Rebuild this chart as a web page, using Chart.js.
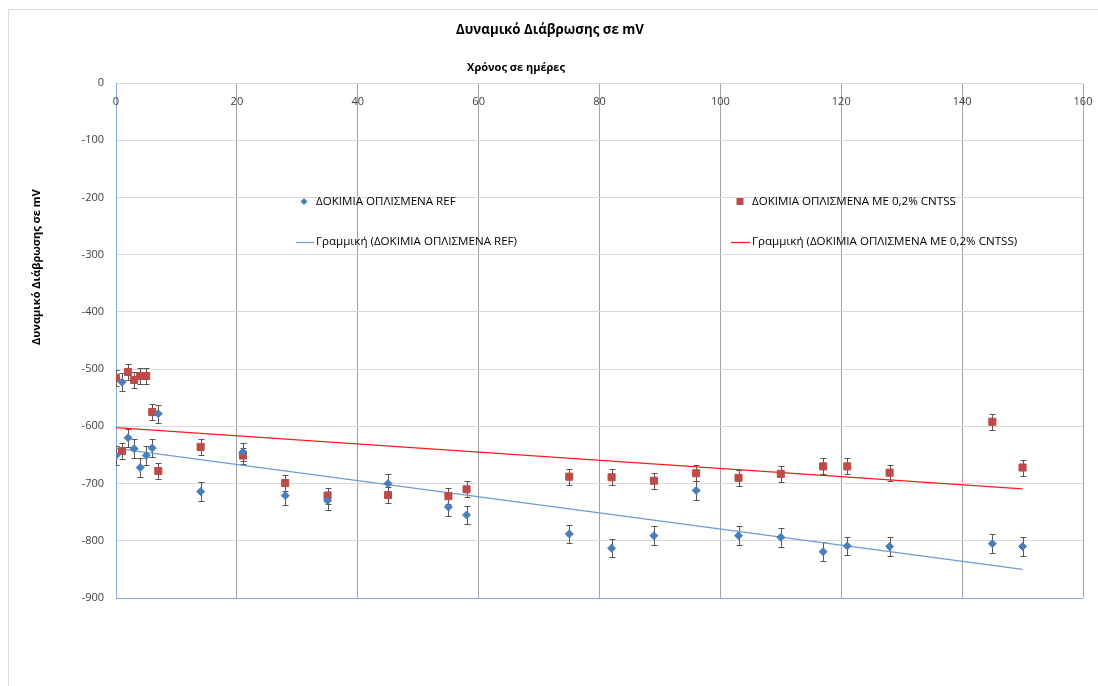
<!DOCTYPE html>
<html><head><meta charset="utf-8">
<script src="https://cdn.jsdelivr.net/npm/chart.js@4.4.1/dist/chart.umd.min.js"></script>
<style>html,body{margin:0;padding:0;background:#fff;overflow:hidden}#wrap{position:relative;width:1098px;height:686px}</style>
</head><body><div id="wrap"><canvas id="c" width="1098" height="686"></canvas></div>
<script>
// ---- data ----
const days = [0,1,2,3,4,5,6,7,14,21,28,35,45,55,58,75,82,89,96,103,110,117,121,128,145,150];
const refValues = [-651,-523,-620,-639,-672,-651,-638,-578,-714,-645,-721,-730,-700,-741,-755,-788,-813,-791,-712,-791,-794,-819,-809,-810,-805,-810];
const cntValues = [-515,-643,-505,-519,-512,-512,-575,-678,-636,-651,-699,-721,-720,-722,-710,-688,-689,-695,-682,-690,-683,-670,-670,-681,-592,-672];
const refErr = [16,16,16,16,16,16,16,16,16,16,16,16,16,16,16,16,16,16,16,16,16,16,16,16,16,16];
const cntErr = [14,14,14,14,14,14,14,14,14,14,14,14,14,14,14,14,14,14,14,14,14,14,14,14,14,14];
const xTicks = [0,20,40,60,80,100,120,140,160];
const yTicks = [0,-100,-200,-300,-400,-500,-600,-700,-800,-900];
const chartTitle = 'Δυναμικό Διάβρωσης σε mV';
const xTitle = 'Χρόνος σε ημέρες';
const yTitle = 'Δυναμικό Διάβρωσης σε mV';
const refName = 'ΔΟΚΙΜΙΑ ΟΠΛΙΣΜΕΝΑ REF';
const cntName = 'ΔΟΚΙΜΙΑ ΟΠΛΙΣΜΕΝΑ ΜΕ 0,2% CNTSS';
const refTrendName = 'Γραμμική (ΔΟΚΙΜΙΑ ΟΠΛΙΣΜΕΝΑ REF)';
const cntTrendName = 'Γραμμική (ΔΟΚΙΜΙΑ ΟΠΛΙΣΜΕΝΑ ΜΕ 0,2% CNTSS)';

// ---- styles ----
const FAMILY = '"Open Sans", "Noto Sans", sans-serif';
const BLUE = '#4a7ebb', RED = '#be4b48';
const BLUE_LINE = '#6f9ad6', RED_LINE = '#ff1a1a';
const AXIS_BLUE = '#86aadb';

function linreg(xs, ys) {
  const n = xs.length;
  let sx=0, sy=0, sxx=0, sxy=0;
  for (let i=0;i<n;i++){ sx+=xs[i]; sy+=ys[i]; sxx+=xs[i]*xs[i]; sxy+=xs[i]*ys[i]; }
  const m = (n*sxy - sx*sy)/(n*sxx - sx*sx);
  const b = (sy - m*sx)/n;
  return {m, b};
}
function trendPoints(xs, ys) {
  const r = linreg(xs, ys);
  const x0 = xs[0], x1 = xs[xs.length-1];
  return [{x:x0, y:r.b + r.m*x0}, {x:x1, y:r.b + r.m*x1}];
}
const pts = (xs, ys) => xs.map((x,i)=>({x, y:ys[i]}));

function fitSize(ctx, text, width, weight) {
  ctx.font = `${weight} 100px ${FAMILY}`;
  return 100 * width / ctx.measureText(text).width;
}

const decor = {
  id: 'decor',
  beforeDraw(chart) {
    const ctx = chart.ctx;
    ctx.save();
    ctx.strokeStyle = '#d9d9d9';
    ctx.lineWidth = 1;
    ctx.strokeRect(8.5, 9.5, 1200, 900);
    ctx.restore();
  },
  beforeDatasetsDraw(chart) {
    const ctx = chart.ctx, xs = chart.scales.x, ys = chart.scales.y;
    const a = chart.chartArea;
    ctx.save();
    ctx.beginPath(); ctx.rect(a.left, a.top, a.right-a.left, a.bottom-a.top); ctx.clip();
    ctx.strokeStyle = '#555555';
    ctx.lineWidth = 1;
    const sets = [[refValues, refErr], [cntValues, cntErr]];
    sets.forEach(([vals, errs]) => {
      vals.forEach((v, i) => {
        const px = Math.round(xs.getPixelForValue(days[i])) + 0.5;
        const pt = Math.round(ys.getPixelForValue(v + errs[i])) + 0.5;
        const pb = Math.round(ys.getPixelForValue(v - errs[i])) + 0.5;
        ctx.beginPath();
        ctx.moveTo(px, pt); ctx.lineTo(px, pb);
        ctx.moveTo(px-3, pt); ctx.lineTo(px+3, pt);
        ctx.moveTo(px-3, pb); ctx.lineTo(px+3, pb);
        ctx.stroke();
      });
    });
    ctx.restore();
  },
  afterDraw(chart) {
    const ctx = chart.ctx, xs = chart.scales.x;
    ctx.save();
    // x tick labels (inside, below the top axis)
    ctx.fillStyle = '#404040';
    ctx.font = `11px ${FAMILY}`;
    ctx.textAlign = 'center';
    ctx.textBaseline = 'middle';
    xTicks.forEach(t => ctx.fillText(String(t), xs.getPixelForValue(t), 102));
    // chart title
    const ts = fitSize(ctx, chartTitle, 188, 'bold');
    ctx.font = `bold ${ts}px ${FAMILY}`;
    ctx.fillStyle = '#000';
    ctx.fillText(chartTitle, 550, 30);
    // x title
    const xsz = fitSize(ctx, xTitle, 98, 'bold');
    ctx.font = `bold ${xsz}px ${FAMILY}`;
    ctx.fillText(xTitle, 516, 68);
    // y title
    ctx.save();
    ctx.translate(37, 345);
    ctx.rotate(-Math.PI/2);
    ctx.textAlign = 'left';
    ctx.fillText(yTitle, 0, 0);
    ctx.restore();
    // legend
    const lsz = fitSize(ctx, refName + refTrendName + cntName + cntTrendName, 811, 'normal');
    ctx.font = `${lsz}px ${FAMILY}`;
    ctx.fillStyle = '#000';
    ctx.textAlign = 'left';
    ctx.fillText(refName, 316, 202);
    ctx.fillText(refTrendName, 316, 242);
    ctx.fillText(cntName, 752, 202);
    ctx.fillText(cntTrendName, 752, 242);
    // legend symbols
    ctx.fillStyle = BLUE;
    ctx.beginPath();
    ctx.moveTo(304, 198); ctx.lineTo(307.5, 201.5); ctx.lineTo(304, 205); ctx.lineTo(300.5, 201.5); ctx.closePath();
    ctx.fill();
    ctx.fillStyle = RED;
    ctx.fillRect(736.5, 198, 7, 7);
    ctx.lineWidth = 1.2;
    ctx.strokeStyle = BLUE_LINE;
    ctx.beginPath(); ctx.moveTo(296, 242.5); ctx.lineTo(314, 242.5); ctx.stroke();
    ctx.strokeStyle = RED_LINE;
    ctx.beginPath(); ctx.moveTo(731, 242.5); ctx.lineTo(750, 242.5); ctx.stroke();
    ctx.restore();
  }
};

new Chart(document.getElementById('c'), {
  type: 'scatter',
  data: {
    datasets: [
      { label: refName, data: pts(days, refValues), pointStyle: 'rectRot', pointRadius: 4, pointHoverRadius: 4,
        backgroundColor: BLUE, borderColor: BLUE, borderWidth: 1, showLine: false },
      { label: cntName, data: pts(days, cntValues), pointStyle: 'rect', pointRadius: 5, pointHoverRadius: 5,
        backgroundColor: RED, borderColor: RED, borderWidth: 1, showLine: false },
      { label: refTrendName, data: trendPoints(days, refValues), showLine: true, pointRadius: 0,
        borderColor: BLUE_LINE, borderWidth: 1.3, fill: false },
      { label: cntTrendName, data: trendPoints(days, cntValues), showLine: true, pointRadius: 0,
        borderColor: RED_LINE, borderWidth: 1.3, fill: false }
    ]
  },
  options: {
    responsive: false,
    animation: false,
    events: [],
    layout: { padding: { left: 0, top: 0, right: 15, bottom: 88 } },
    plugins: { legend: { display: false }, title: { display: false }, tooltip: { enabled: false } },
    scales: {
      x: {
        type: 'linear', position: 'top', min: 0, max: 160,
        afterFit(s) { s.height = 83; },
        afterBuildTicks(s) { s.ticks = xTicks.map(v => ({value: v})); },
        ticks: { display: false },
        grid: { drawTicks: false, lineWidth: 1,
          color: c => (c.tick && (c.tick.value === 0 || c.tick.value === 160)) ? AXIS_BLUE : '#a3a3a3' },
        border: { display: true, color: '#d9d9d9', width: 1 }
      },
      y: {
        type: 'linear', position: 'left', min: -900, max: 0,
        afterFit(s) { s.width = 116; },
        afterBuildTicks(s) { s.ticks = yTicks.map(v => ({value: v})); },
        ticks: { padding: 12, color: '#404040', font: { family: FAMILY, size: 11 } },
        grid: { drawTicks: false, lineWidth: 1,
          color: c => (c.tick && c.tick.value === -900) ? AXIS_BLUE : '#d9d9d9' },
        border: { display: true, color: AXIS_BLUE, width: 1 }
      }
    }
  },
  plugins: [decor]
});
</script>
</body></html>
